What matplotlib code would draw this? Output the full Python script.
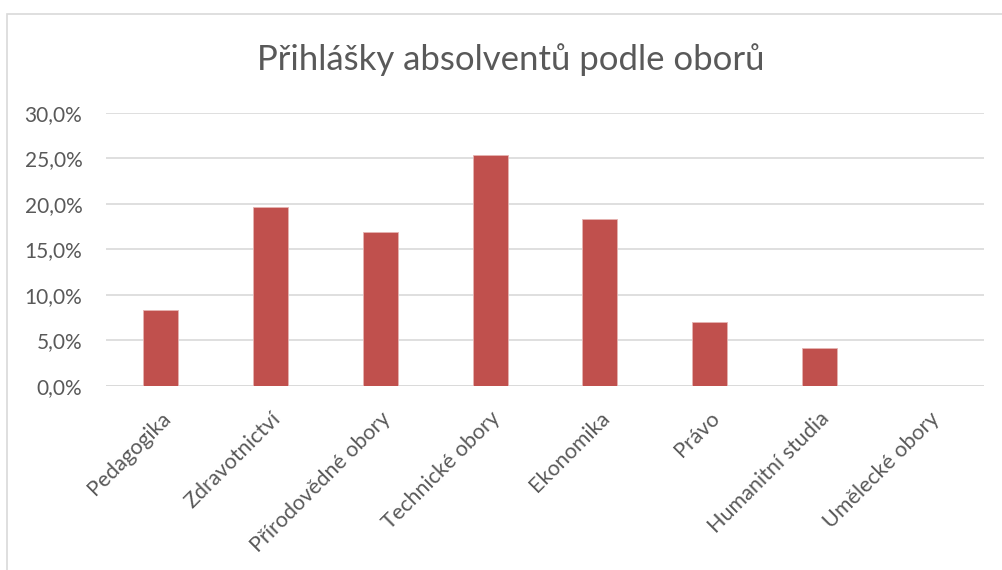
import matplotlib
matplotlib.use('Agg')

import matplotlib.pyplot as plt
from matplotlib.ticker import FuncFormatter, MultipleLocator
from matplotlib.patches import Rectangle

categories = ["Pedagogika", "Zdravotnictví", "Přírodovědné obory", "Technické obory",
              "Ekonomika", "Právo", "Humanitní studia", "Umělecké obory"]
values = [8.4, 19.7, 16.9, 25.4, 18.3, 7.0, 4.2, 0.0]

plt.rcParams["font.family"] = ["Lato", "DejaVu Sans"]

fig = plt.figure(figsize=(10.03, 5.70), dpi=100)
ax = fig.add_axes([0.1057, 0.3228, 0.8753, 0.479])

x = range(len(categories))
ax.bar(x, values, width=0.32, color="#C0504D", edgecolor="#E6B3B2", linewidth=0.6, zorder=3)

ax.set_xlim(-0.5, len(categories) - 0.5)
ax.set_ylim(0, 30)
ax.yaxis.set_major_locator(MultipleLocator(5))
ax.yaxis.set_major_formatter(FuncFormatter(lambda v, p: f"{v:.1f}%".replace(".", ",")))
ax.grid(axis="y", color="#D9D9D9", linewidth=1.2, zorder=0)

ax.set_xticks(list(x))
ax.set_xticklabels(categories, rotation=45, ha="right", rotation_mode="anchor")
ax.tick_params(axis="both", length=0, labelcolor="#595959")
ax.tick_params(axis="y", labelsize=15, pad=17)
ax.tick_params(axis="x", labelsize=15.5, pad=16)

for s in ax.spines.values():
    s.set_visible(False)
ax.axhline(0, color="#D9D9D9", linewidth=1.2, zorder=2)

fig.text(511 / 1003, 1 - 60 / 570, "Přihlášky absolventů podle oborů", fontsize=25,
         color="#595959", ha="center", va="center")

# chart border
fig.patches.append(Rectangle((7 / 1003, -0.1), 1.2, 1 - 14 / 570 + 0.1, transform=fig.transFigure,
                             fill=False, edgecolor="#D9D9D9", linewidth=1.2))

fig.savefig("out.png", dpi=100)
